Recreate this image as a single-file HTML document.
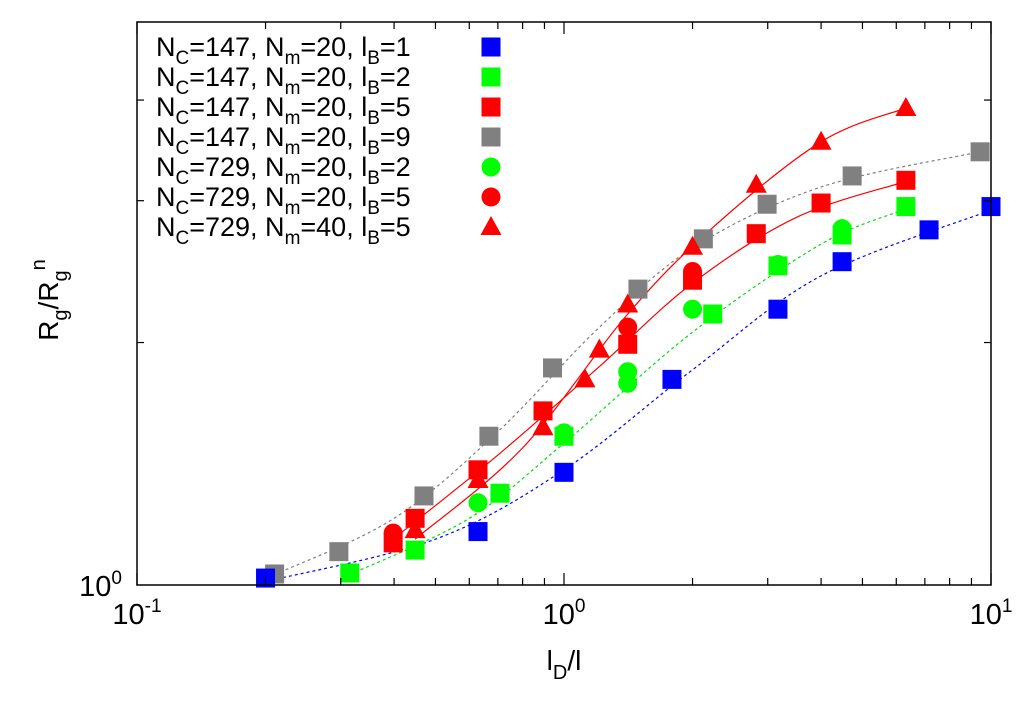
<!DOCTYPE html>
<html><head><meta charset="utf-8"><style>
body{margin:0;background:#fff;}
svg text{font-family:"Liberation Sans",sans-serif;fill:#000;}
</style></head><body>
<svg id="chart" width="1024" height="697" xmlns="http://www.w3.org/2000/svg">
<g id="marks"></g>
<g id="axes"></g>
<text x="564" y="670" font-size="28" text-anchor="middle">l<tspan font-size="20" dy="9">D</tspan><tspan dy="-9">/l</tspan></text>
<text transform="translate(58,300) rotate(-90)" font-size="28" text-anchor="middle">R<tspan font-size="20" dy="9">g</tspan><tspan dy="-9">/R</tspan><tspan font-size="20" dy="9">g</tspan><tspan font-size="20" dy="-22">n</tspan></text>
<g id="legend"></g>
</svg>
<script>
const X0=137,X1=991,Y0=585,Y1=22;
const xs=v=>X0+(Math.log10(v)+1)/2*(X1-X0);
const ys=v=>Y0-Math.log10(v)/Math.log10(5)*(Y0-Y1);
const NS="http://www.w3.org/2000/svg";
function mk(t,a,p){const e=document.createElementNS(NS,t);for(const k in a)e.setAttribute(k,a[k]);p.appendChild(e);return e;}

// data arrays
const blueX=[0.2,0.629,1.0,1.79,3.17,4.48,7.16,10];
const blueY=[1.02,1.165,1.38,1.80,2.20,2.52,2.76,2.95];
const greenX=[0.315,0.448,0.708,1.0,2.23,3.17,4.48,6.32];
const greenY=[1.035,1.105,1.30,1.53,2.17,2.49,2.72,2.95];
const redX=[0.398,0.448,0.629,0.893,1.41,2.0,2.82,4.0,6.32];
const redY=[1.128,1.21,1.39,1.645,1.99,2.39,2.73,2.98,3.18];
const grayX=[0.21,0.297,0.47,0.667,0.94,1.49,2.12,2.99,4.73,9.43];
const grayY=[1.032,1.10,1.29,1.53,1.86,2.33,2.69,2.97,3.22,3.45];
const gcircX=[0.629,1.0,1.41,1.41,2.0,3.17,4.48];
const gcircY=[1.265,1.545,1.78,1.84,2.20,2.50,2.77];
const rcircX=[0.398,1.41,2.0,4.0];
const rcircY=[1.16,2.09,2.45,2.98];
const triX=[0.448,0.629,0.893,1.12,1.21,1.41,2.0,2.82,4.0,6.32];
const triY=[1.17,1.35,1.57,1.80,1.96,2.23,2.63,3.14,3.55,3.91];
// fit curves
const fitBlueX=[0.2,0.5,1.0,2.0,4.0,10];
const fitBlueY=[1.01,1.14,1.39,1.85,2.42,2.92];
const fitGreenX=[0.315,0.6,1.0,2.0,4.0,6.32];
const fitGreenY=[1.03,1.21,1.50,2.06,2.65,2.93];
const fitGrayX=[0.21,0.4,0.7,1.2,2.0,4.0,9.43];
const fitGrayY=[1.03,1.21,1.55,2.08,2.62,3.12,3.45];
const fitRedX=[0.398,0.7,1.2,2.0,3.5,6.32];
const fitRedY=[1.14,1.45,1.86,2.37,2.86,3.17];
const fitTriX=[0.448,0.8,1.4,2.2,4.0,6.32];
const fitTriY=[1.14,1.48,2.16,2.76,3.55,3.91];

const marks=document.getElementById('marks');
function curve(X,Y,col,dash,name){
  const p=X.map((x,i)=>[xs(x),ys(Y[i])]);
  let d='M'+p[0][0]+','+p[0][1];
  for(let i=0;i<p.length-1;i++){
    const a=p[Math.max(0,i-1)],b=p[i],c=p[i+1],e=p[Math.min(p.length-1,i+2)];
    d+=' C'+(b[0]+(c[0]-a[0])/6)+','+(b[1]+(c[1]-a[1])/6)+' '+(c[0]-(e[0]-b[0])/6)+','+(c[1]-(e[1]-b[1])/6)+' '+c[0]+','+c[1];
  }
  const el=mk('path',{d:d,fill:'none',stroke:col,'stroke-width':1.2,'stroke-dasharray':dash?'3,3':'none'},marks);
  
  
}
curve(fitGrayX,fitGrayY,'#808080',true,'fit-curve-gray');
curve(fitBlueX,fitBlueY,'#0000ff',true,'fit-curve-blue');
curve(fitGreenX,fitGreenY,'#00e000',true,'fit-curve-green');
curve(fitRedX,fitRedY,'#ff0000',false,'fit-curve-red');
curve(fitTriX,fitTriY,'#ff0000',false,'fit-curve-triangle');

function sym(kind,cx,cy,col,p){
  let el;
  if(kind==='sq') el=mk('rect',{x:cx-9.5,y:cy-9.5,width:19,height:19,fill:col},p);
  else if(kind==='ci') el=mk('circle',{cx:cx,cy:cy,r:9.5,fill:col},p);
  else el=mk('polygon',{points:`${cx},${cy-11} ${cx+10.5},${cy+8} ${cx-10.5},${cy+8}`,fill:col},p);
  return el;
}
function series(X,Y,kind,col,name){
  X.forEach((x,i)=>{
    const el=sym(kind,xs(x),ys(Y[i]),col,marks);
    
    
  });
}
series(grayX,grayY,'sq','#808080','point-gray-square');
series(blueX,blueY,'sq','#0000ff','point-blue-square');
series(greenX,greenY,'sq','#00ff00','point-green-square');
series(redX,redY,'sq','#ff0000','point-red-square');
series(gcircX,gcircY,'ci','#00ff00','point-green-circle');
series(rcircX,rcircY,'ci','#ff0000','point-red-circle');
series(triX,triY,'tr','#ff0000','point-red-triangle');

// axes
const ax=document.getElementById('axes');
const fr=mk('rect',{x:X0,y:Y1,width:X1-X0,height:Y0-Y1,fill:'none',stroke:'#000','stroke-width':1.5},ax);


const xMajor=[0.1,1,10];
const xLabels=['-1','0','1'];
for(let d=0;d<2;d++){for(let m=2;m<10;m++){const x=xs(m*Math.pow(10,d-1));
  mk('line',{x1:x,y1:Y0,x2:x,y2:Y0-7,stroke:'#000','stroke-width':1.2},ax);
  mk('line',{x1:x,y1:Y1,x2:x,y2:Y1+7,stroke:'#000','stroke-width':1.2},ax);}}
xMajor.forEach((v,i)=>{const x=xs(v);
  mk('line',{x1:x,y1:Y0,x2:x,y2:Y0-12,stroke:'#000','stroke-width':1.2},ax);
  mk('line',{x1:x,y1:Y1,x2:x,y2:Y1+12,stroke:'#000','stroke-width':1.2},ax);
  const t=mk('text',{x:x,y:624,'font-size':29,'text-anchor':'middle'},ax);
  
  
  t.innerHTML='10<tspan font-size="19" dy="-12">'+xLabels[i]+'</tspan>';
});
const yMinor=[2,3,4];
yMinor.forEach(v=>{const y=ys(v);
  mk('line',{x1:X0,y1:y,x2:X0+7,y2:y,stroke:'#000','stroke-width':1.2},ax);
  mk('line',{x1:X1,y1:y,x2:X1-7,y2:y,stroke:'#000','stroke-width':1.2},ax);});
const yl=mk('text',{x:122,y:596,'font-size':29,'text-anchor':'end'},ax);


yl.innerHTML='10<tspan font-size="19" dy="-12">0</tspan>';

// legend
const lg=document.getElementById('legend');
const legNC=['147','147','147','147','729','729','729'];
const legNm=['20','20','20','20','20','20','40'];
const legLB=['1','2','5','9','2','5','5'];
const legKind=['sq','sq','sq','sq','ci','ci','tr'];
const legCol=['#0000ff','#00ff00','#ff0000','#808080','#00ff00','#ff0000','#ff0000'];
legNC.forEach((nc,i)=>{
  const y=56+i*30;
  const t=mk('text',{x:156,y:y,'font-size':27},lg);
  
  
  t.innerHTML=`N<tspan font-size="19" dy="8">C</tspan><tspan dy="-8">=${nc}, N</tspan><tspan font-size="19" dy="8">m</tspan><tspan dy="-8">=${legNm[i]}, l</tspan><tspan font-size="19" dy="8">B</tspan><tspan dy="-8">=${legLB[i]}</tspan>`;
  const s=sym(legKind[i],491,y-9,legCol[i],lg);
  
  
});
</script>
</body></html>
